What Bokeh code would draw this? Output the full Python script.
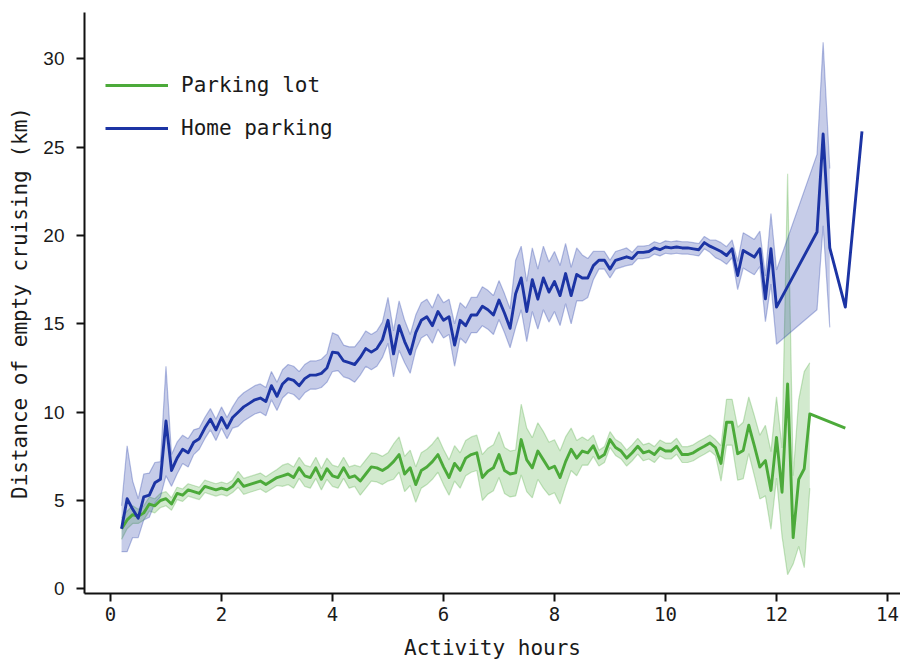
from bokeh.plotting import figure
from bokeh.models import Range1d, Legend, LegendItem, ColumnDataSource
from bokeh.embed import file_html
from bokeh.resources import INLINE

# ---------------- data ----------------
grid_blue = [round(0.2 + 0.1 * i, 1) for i in range(119)]  # 0.2 .. 12.0 sampling grid
home_hours = grid_blue + [12.73, 12.84, 12.96, 13.24, 13.54]
home_km = [
    3.4, 5.1, 4.5, 4.0, 5.2, 5.3, 6.0, 6.2,
    9.5, 6.7, 7.4, 7.9, 7.7, 8.3, 8.5, 9.1, 9.6, 9.0,
    9.7, 9.1, 9.7, 10.0, 10.3, 10.5, 10.7, 10.8, 10.6, 11.5,
    10.9, 11.6, 11.9, 11.8, 11.5, 11.9, 12.1, 12.1, 12.2, 12.5,
    13.4, 13.35, 12.9, 12.8, 12.7, 13.1, 13.6, 13.4, 13.6, 14.1,
    15.2, 13.3, 14.9, 14.0, 13.3, 14.5, 15.2, 15.4, 14.9, 15.7,
    15.2, 15.4, 13.8, 15.2, 14.9, 15.5, 15.5, 16.0, 15.8, 15.5,
    16.35, 15.6, 14.75, 16.7, 17.6, 15.7, 17.5, 16.4, 17.6, 16.8,
    17.4, 16.6, 17.85, 16.6, 17.8, 17.6, 17.6, 18.3, 18.6, 18.6,
    18.1, 18.6, 18.7, 18.8, 18.7, 19.05, 19.05, 19.1, 19.3, 19.2,
    19.35, 19.3, 19.35, 19.3, 19.3, 19.25, 19.2, 19.6, 19.4, 19.25,
    19.1, 18.87, 19.25, 17.74, 19.16, 18.97, 18.78, 19.25, 16.42, 19.25,
    15.95,
    20.2, 25.75, 19.3, 15.95, 25.9,
]
home_ci = [
    1.3, 3.0, 1.6, 1.1, 1.3, 1.25, 1.15, 1.0,
    3.1, 0.9, 0.9, 0.8, 0.8, 0.7, 0.6, 0.6, 0.6, 0.6,
    0.6, 0.6, 0.6, 0.8, 0.8, 0.8, 0.8, 0.8, 0.8, 0.8,
    0.8, 0.8, 0.8, 0.8, 0.8, 0.8, 0.8, 0.8, 0.8, 0.8,
    1.1, 1.0, 0.9, 0.9, 1.0, 1.0, 1.0, 1.0, 1.0, 1.0,
    1.3, 1.3, 1.4, 1.2, 1.1, 1.0, 1.0, 1.0, 1.0, 1.0,
    1.0, 1.0, 1.2, 1.0, 1.0, 1.0, 1.0, 1.1, 1.1, 1.1,
    1.1, 1.1, 1.1, 1.9, 1.8, 1.7, 1.8, 1.7, 1.8, 1.7,
    1.7, 1.7, 1.7, 1.6, 1.5, 1.3, 1.1, 0.8, 0.5, 0.5,
    0.5, 0.5, 0.5, 0.5, 0.35, 0.35, 0.35, 0.35, 0.35, 0.35,
    0.35, 0.35, 0.35, 0.35, 0.35, 0.35, 0.35, 0.35, 0.35, 0.5,
    0.5, 0.5, 0.5, 0.8, 1.0, 1.0, 1.0, 1.0, 1.3, 2.0,
    2.1,
    4.4, 5.2, 4.5, 0.0, 0.0,
]

grid_green = [round(0.2 + 0.1 * i, 1) for i in range(125)]  # 0.2 .. 12.6 sampling grid
lot_hours = grid_green + [13.24]
lot_km = [
    3.4, 3.9, 4.2, 4.1, 4.3, 4.8, 4.7, 5.0,
    5.1, 4.8, 5.4, 5.3, 5.6, 5.5, 5.4, 5.8, 5.7, 5.6,
    5.7, 5.6, 5.8, 6.2, 5.8, 5.9, 6.0, 6.1, 5.9, 6.1,
    6.3, 6.4, 6.5, 6.3, 6.85, 6.4, 6.3, 6.85, 6.2, 6.8,
    6.4, 6.3, 6.85, 6.3, 6.4, 6.1, 6.5, 6.9, 6.85, 6.7,
    6.9, 7.2, 7.6, 6.5, 6.85, 5.9, 6.7, 6.9, 7.2, 7.6,
    6.9, 6.3, 7.1, 6.7, 7.4, 7.6, 7.7, 6.3, 6.66, 6.85,
    7.6, 6.7, 6.5, 6.56, 8.45, 7.3, 6.85, 7.8, 7.3, 6.8,
    6.94, 6.3, 7.2, 7.9, 7.4, 7.8, 7.7, 8.1, 7.4, 7.6,
    8.45, 8.0, 7.8, 7.4, 7.7, 8.07, 7.7, 7.8, 7.6, 7.97,
    7.8, 7.8, 8.07, 7.6, 7.6, 7.7, 7.9, 8.07, 8.26, 8.0,
    7.1, 9.43, 9.43, 7.65, 7.83, 9.26, 8.11, 6.89, 7.26, 5.57,
    8.57, 5.47, 11.6, 2.9, 6.2, 6.8, 9.9,
    9.1,
]
lot_ci_up = [
    0.6, 0.5, 0.5, 0.4, 0.4, 0.4, 0.4, 0.4,
    0.4, 0.35, 0.35, 0.35, 0.35, 0.35, 0.35, 0.35, 0.35, 0.35,
    0.35, 0.35, 0.35, 0.45, 0.45, 0.45, 0.45, 0.45, 0.45, 0.45,
    0.45, 0.6, 0.6, 0.6, 0.6, 0.6, 0.6, 0.6, 0.6, 0.6,
    0.6, 0.6, 0.6, 0.6, 0.6, 0.8, 0.8, 0.8, 0.8, 0.8,
    0.8, 1.0, 1.0, 1.0, 1.0, 1.0, 1.0, 1.0, 1.0, 1.0,
    1.0, 1.0, 1.0, 1.0, 1.0, 1.0, 1.0, 1.3, 1.3, 1.3,
    1.3, 1.3, 1.3, 1.3, 2.0, 1.8, 1.7, 1.6, 1.6, 1.5,
    1.5, 1.5, 1.4, 1.2, 1.0, 0.8, 0.7, 0.6, 0.45, 0.45,
    0.45, 0.45, 0.45, 0.45, 0.45, 0.45, 0.45, 0.45, 0.45, 0.45,
    0.45, 0.45, 0.45, 0.45, 0.45, 0.45, 0.45, 0.45, 0.45, 0.45,
    1.0, 1.3, 1.3, 1.5, 1.6, 1.6, 1.7, 1.8, 2.0, 2.2,
    2.3, 2.5, 11.9, 3.5, 4.5, 5.5, 2.9,
    0.0,
]
lot_ci_dn = lot_ci_up[:118] + [2.3, 2.5, 10.8, 1.5, 3.8, 5.6, 4.2, 0.0]

x_ticks = [0, 2, 4, 6, 8, 10, 12, 14]
y_ticks = [0, 5, 10, 15, 20, 25, 30]

# ---------------- figure ----------------
BLUE = "#1c34a4"
GREEN = "#4caa3a"
MONO = "DejaVu Sans Mono"

p = figure(width=900, height=663, output_backend="svg", toolbar_location=None,
           x_range=Range1d(-0.468, 14.234), y_range=Range1d(-0.266, 32.63),
           min_border_left=84, min_border_right=0, min_border_top=12, min_border_bottom=70)
p.outline_line_color = None
p.xgrid.visible = False
p.ygrid.visible = False
p.background_fill_color = "white"
p.border_fill_color = "white"


def band_source(xs, ms, up, dn):
    # confidence band only where there is more than one observation (ci > 0)
    keep = [i for i in range(len(xs)) if up[i] > 0 or dn[i] > 0]
    return ColumnDataSource(dict(
        x=[xs[i] for i in keep],
        lo=[ms[i] - dn[i] for i in keep],
        hi=[ms[i] + up[i] for i in keep]))


home_band = band_source(home_hours, home_km, home_ci, home_ci)
lot_band = band_source(lot_hours, lot_km, lot_ci_up, lot_ci_dn)
home_src = ColumnDataSource(dict(x=home_hours, y=home_km))
lot_src = ColumnDataSource(dict(x=lot_hours, y=lot_km))

for src, col in ((lot_band, GREEN), (home_band, BLUE)):
    p.varea(x="x", y1="lo", y2="hi", source=src, fill_color=col, fill_alpha=0.25)
    p.line(x="x", y="lo", source=src, line_color=col, line_alpha=0.3, line_width=1.2)
    p.line(x="x", y="hi", source=src, line_color=col, line_alpha=0.3, line_width=1.2)

lot_line = p.line(x="x", y="y", source=lot_src, line_color=GREEN, line_width=2.9, line_join="round")
home_line = p.line(x="x", y="y", source=home_src, line_color=BLUE, line_width=2.9, line_join="round")

# axes
for ax in (p.xaxis[0], p.yaxis[0]):
    ax.axis_line_width = 2
    ax.axis_line_color = "#111111"
    ax.major_tick_line_width = 2
    ax.major_tick_line_color = "#111111"
    ax.major_tick_out = 8
    ax.major_tick_in = 0
    ax.minor_tick_line_color = None
    ax.major_label_text_color = "#1a1a1a"
    ax.axis_label_text_color = "#1a1a1a"
    ax.axis_label_text_font = MONO
    ax.axis_label_text_font_style = "normal"
    ax.axis_label_text_font_size = "21px"

p.xaxis.ticker = x_ticks
p.yaxis.ticker = y_ticks
p.xaxis.major_label_text_font = MONO
p.xaxis.major_label_text_font_size = "19px"
p.xaxis.major_label_standoff = 5
p.xaxis.axis_label = "Activity hours"
p.xaxis.axis_label_standoff = 12

p.yaxis.major_label_text_font = "Liberation Sans"
p.yaxis.major_label_text_font_size = "19px"
p.yaxis.major_label_standoff = 12
p.yaxis.axis_label = "Distance of empty cruising (km)"
p.yaxis.axis_label_standoff = 8

legend = Legend(items=[LegendItem(label="Parking lot", renderers=[lot_line]),
                       LegendItem(label="Home parking", renderers=[home_line])],
                location=(21, 453), orientation="vertical")
legend.label_text_font = MONO
legend.label_text_font_size = "21px"
legend.label_text_color = "#1a1a1a"
legend.glyph_width = 63
legend.glyph_height = 24
legend.label_height = 24
legend.label_standoff = 13
legend.spacing = 19
legend.padding = 0
legend.margin = 0
legend.border_line_color = None
legend.background_fill_alpha = 0
p.add_layout(legend)

open("out.html", "w").write(file_html(p, INLINE))
